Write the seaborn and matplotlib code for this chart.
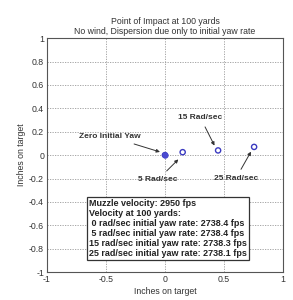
import pandas as pd
import matplotlib.pyplot as plt
import seaborn as sns

sns.set_theme(style="white")
plt.rcParams['font.family'] = ['Liberation Sans', 'DejaVu Sans']

# Point of impact data (inches)
yaw_rates = ['0', '5', '15', '25']
x_inches = [0.0, 0.15, 0.45, 0.755]
y_inches = [0.0, 0.025, 0.04, 0.07]
box_lines = [
    "Muzzle velocity: 2950 fps",
    "Velocity at 100 yards:",
    " 0 rad/sec initial yaw rate: 2738.4 fps",
    " 5 rad/sec initial yaw rate: 2738.4 fps",
    "15 rad/sec initial yaw rate: 2738.3 fps",
    "25 rad/sec initial yaw rate: 2738.1 fps",
]

data = pd.DataFrame({'rate': yaw_rates, 'x': x_inches, 'y': y_inches})

fig = plt.figure(figsize=(2.93, 3.0), dpi=100)
ax = fig.add_axes([0.16, 0.093, 0.806, 0.78])

sns.scatterplot(data=data, x='x', y='y', ax=ax, marker='o', s=14,
                facecolor='none', edgecolor='#3a3ac0', linewidth=1.0, zorder=3)
ax.scatter(data['x'][:1], data['y'][:1], s=12, color='#4a4ad0', zorder=4)

ax.set_xlim(-1, 1)
ax.set_ylim(-1, 1)
ax.set_xticks([-1, -0.5, 0, 0.5, 1])
ax.set_xticklabels(['-1', '-0.5', '0', '0.5', '1'])
ax.set_yticks([-1, -0.8, -0.6, -0.4, -0.2, 0, 0.2, 0.4, 0.6, 0.8, 1])
ax.set_yticklabels(['-1', '-0.8', '-0.6', '-0.4', '-0.2', '0', '0.2', '0.4', '0.6', '0.8', '1'])
ax.tick_params(labelsize=6.3, length=2, direction='in', pad=2, colors='#333333')
ax.grid(True, linestyle=(0, (1.5, 1.5)), color='#999999', linewidth=0.6)
for s in ax.spines.values():
    s.set_color('#555555')
    s.set_linewidth(0.8)

ax.set_title("Point of Impact at 100 yards\nNo wind, Dispersion due only to initial yaw rate",
             fontsize=6.3, pad=3, color='#333333', linespacing=1.1)
ax.set_xlabel('Inches on target', fontsize=6.3, labelpad=2, color='#333333')
ax.set_ylabel('Inches on target', fontsize=6.3, labelpad=2, color='#333333')

arrow = dict(arrowstyle='-|>', color='#333333', lw=0.7, mutation_scale=5)
lbl = dict(fontsize=6, fontweight='bold', color='#333333', ha='center', va='center')
ax.annotate('Zero Initial Yaw', xy=(-0.02, 0.02), xytext=(-0.47, 0.16), arrowprops=arrow, **lbl)
ax.annotate('5 Rad/sec', xy=(0.13, -0.02), xytext=(-0.06, -0.21), arrowprops=arrow, **lbl)
ax.annotate('15 Rad/sec', xy=(0.43, 0.06), xytext=(0.3, 0.32), arrowprops=arrow, **lbl)
ax.annotate('25 Rad/sec', xy=(0.74, 0.05), xytext=(0.6, -0.2), arrowprops=arrow, **lbl)

ax.text(-0.645, -0.375, "\n".join(box_lines), fontsize=6.45, fontweight='bold',
        color='#222222', ha='left', va='top', linespacing=1.15,
        bbox=dict(boxstyle='square,pad=0.25', facecolor='white', edgecolor='#333333', linewidth=0.9),
        zorder=5)

fig.savefig('out.png', dpi=100)
